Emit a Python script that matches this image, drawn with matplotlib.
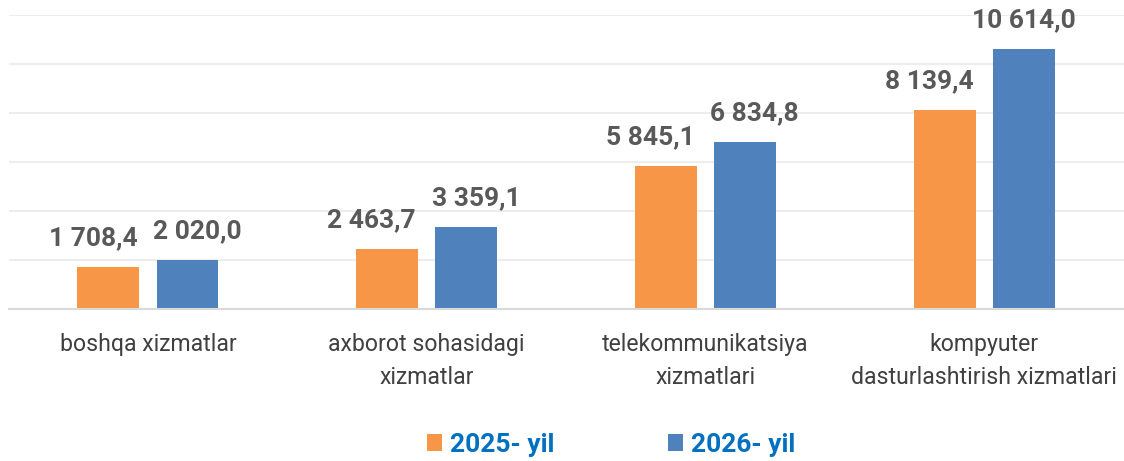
import matplotlib
matplotlib.use("Agg")
import matplotlib.pyplot as plt
import numpy as np

categories = ["boshqa xizmatlar", "axborot sohasidagi\nxizmatlar",
              "telekommunikatsiya\nxizmatlari", "kompyuter\ndasturlashtirish xizmatlari"]
series_names = ["2025- yil", "2026- yil"]
values_2025 = [1708.4, 2463.7, 5845.1, 8139.4]
values_2026 = [2020.0, 3359.1, 6834.8, 10614.0]

def fmt(v):
    s = f"{v:,.1f}"
    return s.replace(",", " ").replace(".", ",")

plt.rcParams['font.family'] = ['Roboto', 'DejaVu Sans']

fig = plt.figure(figsize=(11.24, 4.61), dpi=100)
ax = fig.add_axes([0.0076, 0.3297, 0.992, 0.6378])

x = np.arange(len(categories))
w = 0.222
off = 0.142
b1 = ax.bar(x - off, values_2025, w, color="#F79646", label=series_names[0], zorder=3)
b2 = ax.bar(x + off, values_2026, w, color="#4F81BD", label=series_names[1], zorder=3)

ax.set_xlim(-0.5, len(categories) - 0.5)
ax.set_ylim(0, 12000)
ax.set_yticks(np.arange(0, 12001, 2000))
ax.yaxis.grid(True, color="#EDEDED", linewidth=1.5, zorder=0)
ax.tick_params(axis='y', left=False, labelleft=False)
ax.tick_params(axis='x', bottom=False, pad=14)
ax.set_xticks(x)
ax.set_xticklabels(categories, fontsize=16.6, color="#404040", linespacing=1.55)
for s in ["top", "right", "left"]:
    ax.spines[s].set_visible(False)
ax.spines["bottom"].set_color("#D9D9D9")
ax.spines["bottom"].set_linewidth(1.5)
ax.spines["bottom"].set_zorder(4)

for i, (r, v) in enumerate(zip(b1, values_2025)):
    ax.annotate(fmt(v), (r.get_x() + r.get_width() / 2, v), xytext=(-11, 12),
                textcoords="offset points", ha="center", va="bottom",
                fontsize=19, fontweight="bold", color="#595959")
for i, (r, v) in enumerate(zip(b2, values_2026)):
    dx = 7 if i < len(values_2026) - 1 else 0
    ax.annotate(fmt(v), (r.get_x() + r.get_width() / 2, v), xytext=(dx, 12),
                textcoords="offset points", ha="center", va="bottom",
                fontsize=19, fontweight="bold", color="#595959")

leg = fig.legend(handles=[b1, b2], labels=series_names, loc="center",
                 bbox_to_anchor=(0.5435, 0.035), ncol=2, frameon=False,
                 handlelength=0.57, handleheight=0.57, handletextpad=0.3,
                 columnspacing=4.3, labelcolor="#0070C0",
                 prop={'family': 'Roboto', 'weight': 'bold', 'size': 19})

fig.savefig("out.png", dpi=100, facecolor="white")
